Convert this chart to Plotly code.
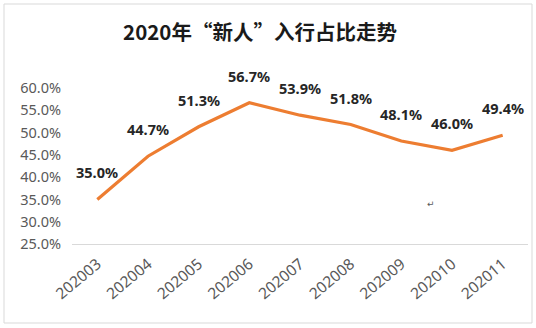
import plotly.graph_objects as go

# Monthly share of newcomers entering the industry in 2020
months = ["202003", "202004", "202005", "202006", "202007",
          "202008", "202009", "202010", "202011"]
share = [0.350, 0.447, 0.513, 0.567, 0.539, 0.518, 0.481, 0.460, 0.494]
y_ticks = [0.25, 0.30, 0.35, 0.40, 0.45, 0.50, 0.55, 0.60]

W, H = 536, 328
L, R, T, B = 72, 8, 88, 84
pw, ph = W - L - R, H - T - B

def px_to_paper_x(px):
    return (px - L) / pw

def px_to_paper_y(py):
    return (H - B - py) / ph

fig = go.Figure()
fig.add_trace(go.Scatter(
    x=months, y=share, mode="lines",
    line=dict(color="#ED7D31", width=3.2),
    hoverinfo="x+y",
))

# Value labels above each point (category index on the x axis)
for i, v in enumerate(share):
    fig.add_annotation(
        x=i, y=v, text=f"{v*100:.1f}%", showarrow=False,
        yshift=27, xanchor="center", yanchor="middle",
        font=dict(family="Noto Sans, DejaVu Sans", size=14.5,
                  color="#262626", weight="bold"),
    )

# Chart frame
fig.add_shape(
    type="rect", xref="paper", yref="paper",
    x0=px_to_paper_x(4), x1=px_to_paper_x(532),
    y0=px_to_paper_y(323), y1=px_to_paper_y(4),
    line=dict(color="#D9D9D9", width=1), fillcolor="rgba(0,0,0,0)",
    layer="below",
)

# Stray paragraph mark
fig.add_annotation(
    xref="paper", yref="paper",
    x=px_to_paper_x(437), y=px_to_paper_y(211),
    text="↵", showarrow=False,
    font=dict(family="DejaVu Sans", size=9, color="#595959"),
)

fig.update_layout(
    width=W, height=H,
    margin=dict(l=L, r=R, t=T, b=B),
    paper_bgcolor="white", plot_bgcolor="white",
    showlegend=False,
    title=dict(
        text="2020年“新人”入行占比走势",
        x=260 / W, xref="container", xanchor="center",
        y=1 - 33 / H, yref="container", yanchor="middle",
        font=dict(family="Noto Sans CJK SC", size=20.5, color="#1a1a1a",
                  weight="bold"),
    ),
    xaxis=dict(
        type="category", categoryorder="array", categoryarray=months,
        range=[-0.5, len(months) - 0.5], tickangle=-40,
        showgrid=False, showline=True, linecolor="#D9D9D9", linewidth=1,
        ticks="", zeroline=False, ticklabelstandoff=4,
        tickfont=dict(family="Noto Sans, DejaVu Sans", size=15.5,
                      color="#595959"),
    ),
    yaxis=dict(
        range=[0.25, 0.60], tickvals=y_ticks, tickformat=".1%",
        showgrid=False, showline=False, zeroline=False, ticks="",
        ticklabelstandoff=10,
        tickfont=dict(family="Noto Sans, DejaVu Sans", size=14.5,
                      color="#595959"),
    ),
)

fig.write_html("out.html")
